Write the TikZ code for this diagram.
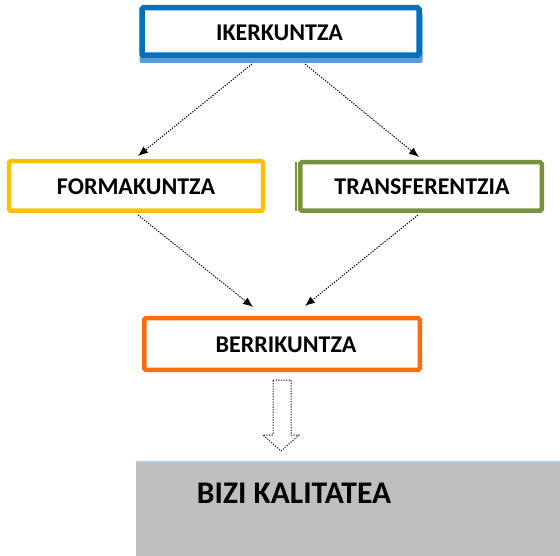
\documentclass[tikz,border=0pt]{standalone}
\usepackage{fontspec}
\setmainfont{Carlito}
\usetikzlibrary{arrows.meta}
\definecolor{ikblue}{HTML}{0070C0}
\definecolor{ikshadow}{HTML}{5B9BD5}
\definecolor{foyellow}{HTML}{FFC000}
\definecolor{trgreen}{HTML}{77933C}
\definecolor{beorange}{HTML}{FF6A0A}
\definecolor{bkgray}{HTML}{BFBFBF}
\definecolor{bkline}{HTML}{B4C7E7}
\begin{document}
\begin{tikzpicture}[x=1pt,y=-1pt,
  boxshape/.style={draw, line width=4.5pt, rounded corners=1.5pt, fill=white, inner sep=0pt},
  boxtext/.style={font=\fontsize{24}{28}\selectfont\bfseries, inner sep=0pt},
  conn/.style={dash pattern=on 1.3pt off 1.3pt, line width=1pt, -{Latex[length=10pt,width=8pt]}}]
\useasboundingbox (0,0) rectangle (560,556);
% IKERKUNTZA
\fill[ikshadow, rounded corners=1.5pt] (139.5,12) rectangle (422.5,63);
\node[boxshape, draw=ikblue, line width=5.5pt, minimum width=277pt, minimum height=47.5pt] (ik) at (280.5,31.5) {};
\node[boxtext] (ikt) at (279.5,32.5) {IKERKUNTZA};
% FORMAKUNTZA
\node[boxshape, draw=foyellow, minimum width=254pt, minimum height=49.5pt] (fo) at (136,186) {};
\node[boxtext] (fot) at (136,186.5) {FORMAKUNTZA};
% TRANSFERENTZIA
\draw[trgreen, line width=1.5pt] (296,162.5) -- (296,211.5);
\node[boxshape, draw=trgreen, minimum width=241.5pt, minimum height=48.5pt] (tr) at (421,186.5) {};
\node[boxtext] (trt) at (422,186.5) {TRANSFERENTZIA};
% BERRIKUNTZA
\node[boxshape, draw=beorange, minimum width=275.5pt, minimum height=51.5pt] (be) at (282,344) {};
\node[boxtext] (bet) at (286,345) {BERRIKUNTZA};
% BIZI KALITATEA
\node[fill=bkgray, inner sep=0pt, minimum width=424pt, minimum height=94pt, anchor=north west] (bk) at (136,462) {};
\draw[bkline, line width=1.2pt] (bk.north west) -- (bk.north east);
\node[font=\fontsize{31.5}{36}\selectfont\bfseries, inner sep=0pt] (bkt) at (294,493) {BIZI KALITATEA};
% connectors
\draw[conn] ([xshift=-28.5pt,yshift=-6pt]ik.south) -- ([xshift=2pt,yshift=3pt]fo.north);
\draw[conn] ([xshift=24.5pt,yshift=-6pt]ik.south) -- ([xshift=-2pt,yshift=3pt]tr.north);
\draw[conn] ([xshift=2pt,yshift=-2pt]fo.south) -- ([xshift=-29pt,yshift=9pt]be.north);
\draw[conn] ([xshift=-3pt,yshift=-2pt]tr.south) -- ([xshift=23pt,yshift=10pt]be.north);
% hollow block arrow
\draw[black!85, dash pattern=on 1.3pt off 1.3pt, line width=1pt] (273,380) -- (291,380) -- (291,435) -- (299,435) -- (281,451) -- (263,435) -- (273,435) -- cycle;
\end{tikzpicture}
\end{document}
